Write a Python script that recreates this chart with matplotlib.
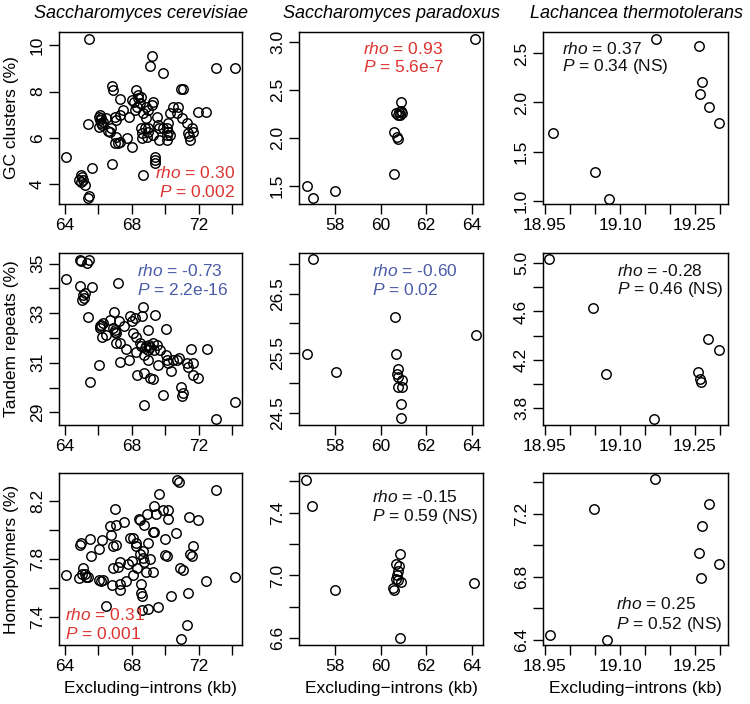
import matplotlib
matplotlib.use("Agg")
import matplotlib.pyplot as plt
import numpy as np

plt.rcParams['font.family'] = ['Liberation Sans', 'DejaVu Sans']
plt.rcParams['mathtext.fontset'] = 'custom'
plt.rcParams['mathtext.it'] = 'Liberation Sans:italic'
plt.rcParams['mathtext.rm'] = 'Liberation Sans'

# ---------------- data ----------------
species = ["Saccharomyces cerevisiae", "Saccharomyces paradoxus", "Lachancea thermotolerans"]
ylabels = ["GC clusters (%)", "Tandem repeats (%)", "Homopolymers (%)"]
xlabel = "Excluding\u2212introns (kb)"

# S. cerevisiae
sc_gc_x = [65.44, 64.08, 64.98, 64.84, 65.08, 64.94, 65.18, 65.04, 65.38, 65.44, 65.4, 65.64,
           66.04, 66.08, 66.14, 66.04, 66.18, 66.08, 66.28, 66.44, 66.84, 66.88, 66.84, 66.68,
           66.78, 66.98, 67.18, 67.04, 67.08, 67.32, 67.28, 67.48, 67.32, 67.72, 67.84, 68.04,
           68.0, 68.12, 68.28, 68.38, 68.18, 68.32, 68.48, 68.58, 68.68, 68.58, 68.64, 68.64,
           68.68, 68.78, 68.88, 68.98, 68.88, 68.98, 69.08, 69.18, 69.28, 69.18, 69.28, 69.38,
           69.38, 69.38, 69.48, 69.58, 69.64, 69.84, 69.88, 70.08, 70.08, 70.18, 70.18, 70.28,
           70.48, 70.68, 70.78, 70.92, 71.04, 70.98, 71.28, 71.38, 71.44, 71.48, 71.58, 71.68,
           71.96, 72.44, 73.04, 74.18, 70.08, 69.0, 68.9, 66.2, 66.6, 67.0, 68.4, 69.6, 70.3]
sc_gc_y = [10.26, 5.19, 4.40, 4.19, 4.19, 4.12, 3.97, 4.33, 3.40, 3.50, 6.60, 4.72,
           6.92, 6.77, 6.63, 6.48, 6.84, 6.99, 6.70, 6.84, 8.25, 8.06, 4.90, 6.27,
           6.41, 5.77, 5.77, 6.05, 6.77, 7.66, 5.84, 7.20, 6.99, 5.98, 6.92, 5.60,
           7.63, 7.56, 8.06, 7.85, 7.20, 7.34, 7.49, 7.78, 7.06, 6.41, 6.20, 5.98,
           4.40, 6.41, 7.34, 7.20, 6.84, 6.41, 9.10, 9.53, 7.56, 7.42, 6.13, 5.19,
           5.05, 4.91, 6.92, 6.56, 5.91, 8.78, 6.41, 6.41, 6.13, 6.27, 6.63, 7.06,
           7.34, 7.06, 7.34, 8.09, 8.09, 6.84, 6.63, 6.20, 6.08, 5.91, 6.41, 6.27,
           7.13, 7.13, 8.99, 8.99, 5.91, 6.25, 6.05, 6.55, 6.30, 6.90, 7.70, 6.45, 6.15]

sc_tr_x = [64.04, 64.88, 64.98, 65.44, 65.32, 64.88, 65.08, 65.12, 65.04, 65.18, 65.64, 65.40,
           65.48, 66.04, 66.08, 66.18, 66.28, 66.10, 66.24, 66.44, 66.68, 66.92, 66.98, 67.08,
           66.90, 67.18, 67.24, 67.04, 67.32, 67.32, 67.52, 67.68, 67.84, 67.92, 68.04, 68.18,
           68.08, 68.28, 68.28, 68.32, 68.48, 68.58, 68.64, 68.68, 68.74, 68.74, 68.72, 68.88,
           68.98, 68.98, 69.04, 69.08, 69.24, 69.28, 69.38, 69.32, 69.48, 69.58, 69.68, 69.84,
           70.02, 70.04, 70.08, 70.18, 70.32, 70.48, 70.68, 70.84, 70.94, 70.98, 71.08, 71.28,
           71.38, 71.52, 71.64, 71.64, 71.96, 72.48, 73.04, 74.18, 68.8, 68.95, 69.1, 67.0]
sc_tr_y = [34.39, 35.13, 35.09, 35.16, 35.03, 34.08, 33.75, 33.61, 33.54, 33.81, 34.06, 32.83,
           30.24, 30.92, 32.47, 32.53, 32.60, 32.40, 32.06, 32.13, 32.74, 33.03, 32.33, 32.20,
           32.40, 34.22, 32.67, 31.79, 31.79, 31.05, 32.47, 31.55, 31.12, 32.87, 32.67, 32.80,
           32.20, 32.06, 31.45, 30.51, 31.79, 31.66, 32.87, 33.27, 29.30, 30.58, 31.32, 31.66,
           32.33, 31.12, 31.72, 30.38, 30.34, 31.79, 32.94, 31.52, 31.72, 30.92, 31.52, 29.70,
           32.37, 31.32, 31.12, 30.98, 30.65, 31.12, 31.12, 31.19, 30.04, 29.64, 29.77, 30.98,
           30.85, 31.55, 31.01, 30.51, 30.40, 31.55, 28.73, 29.43, 31.60, 31.50, 31.65, 32.25]

sc_hp_x = [64.04, 64.84, 64.98, 64.92, 65.08, 65.04, 65.18, 65.28, 65.38, 65.48, 65.58, 66.04,
           66.18, 66.28, 66.04, 66.24, 66.44, 66.68, 66.78, 66.88, 66.88, 66.84, 67.02, 67.04,
           67.04, 67.18, 67.28, 67.32, 67.32, 67.52, 67.68, 67.78, 67.92, 68.08, 68.08, 68.04,
           68.24, 68.28, 68.32, 68.44, 68.48, 68.48, 68.54, 68.64, 68.58, 68.64, 68.68, 68.68,
           68.72, 68.74, 68.88, 68.92, 68.98, 68.98, 69.08, 69.24, 69.32, 69.24, 69.32, 69.44,
           69.58, 69.64, 69.84, 69.98, 69.98, 70.08, 70.18, 70.18, 70.32, 70.64, 70.72, 70.80,
           70.88, 71.04, 70.92, 71.28, 71.38, 71.40, 71.48, 71.58, 71.64, 71.96, 72.44, 73.04,
           74.18]
sc_hp_y = [7.69, 7.67, 7.91, 7.90, 7.74, 7.70, 7.70, 7.68, 7.68, 7.94, 7.82, 7.66,
           7.65, 7.66, 7.87, 7.93, 7.48, 8.03, 7.97, 7.89, 7.74, 7.62, 8.15, 8.04,
           7.90, 7.75, 7.78, 7.63, 7.59, 8.06, 7.65, 7.77, 7.95, 7.95, 7.69, 7.79,
           7.91, 7.89, 7.74, 8.08, 8.07, 7.84, 7.57, 7.55, 7.63, 7.45, 7.86, 7.81,
           8.04, 7.78, 7.71, 8.11, 7.91, 7.46, 7.80, 7.99, 7.99, 7.71, 8.17, 8.11,
           7.47, 8.25, 8.14, 7.94, 7.83, 7.82, 8.14, 8.08, 7.55, 7.98, 8.35, 8.33,
           7.74, 7.73, 7.25, 7.35, 7.57, 8.09, 7.84, 7.82, 7.89, 8.07, 7.65, 8.28,
           7.68]

# S. paradoxus
sp_gc_x = [56.76, 57.05, 58.00, 60.61, 60.61, 60.71, 60.75, 60.66, 60.75, 60.81, 60.90, 60.85,
           60.93, 60.90, 64.15]
sp_gc_y = [1.50, 1.37, 1.45, 1.62, 2.06, 2.01, 1.99, 2.26, 2.24, 2.27, 2.28, 2.24,
           2.26, 2.37, 3.03]
sp_tr_x = [57.05, 56.76, 58.04, 60.64, 60.66, 60.75, 60.71, 60.78, 60.93, 60.75, 60.96, 60.90,
           60.90, 64.18]
sp_tr_y = [27.08, 25.49, 25.18, 26.11, 25.49, 25.23, 25.16, 25.11, 25.06, 24.94, 24.94, 24.65,
           24.41, 25.80]
sp_hp_x = [56.71, 57.00, 58.00, 60.56, 60.61, 60.66, 60.71, 60.75, 60.66, 60.81, 60.85, 60.88,
           60.78, 60.87, 64.12]
sp_hp_y = [7.61, 7.44, 6.91, 6.92, 6.91, 6.98, 7.00, 6.97, 7.07, 7.06, 7.14, 6.96,
           7.03, 6.60, 6.95]

# L. thermotolerans
lt_gc_x = [18.965, 19.050, 19.077, 19.171, 19.257, 19.263, 19.260, 19.277, 19.297]
lt_gc_y = [1.69, 1.29, 1.02, 2.65, 2.58, 2.21, 2.09, 1.95, 1.79]
lt_tr_x = [18.959, 19.045, 19.072, 19.168, 19.255, 19.260, 19.262, 19.275, 19.297]
lt_tr_y = [5.03, 4.63, 4.08, 3.71, 4.10, 4.04, 4.02, 4.37, 4.28]
lt_hp_x = [18.960, 19.047, 19.073, 19.170, 19.277, 19.263, 19.257, 19.297, 19.261]
lt_hp_y = [6.43, 7.23, 6.40, 7.42, 7.26, 7.12, 6.95, 6.88, 6.79]

# statistics text
rho_vals = [["0.30", "0.93", "0.37"], ["-0.73", "-0.60", "-0.28"], ["0.31", "-0.15", "0.25"]]
p_vals = [["0.002", "5.6e-7", "0.34 (NS)"], ["2.2e-16", "0.02", "0.46 (NS)"], ["0.001", "0.59 (NS)", "0.52 (NS)"]]

# ticks
x_ticks = [[64, 66, 68, 70, 72, 74], [58, 60, 62, 64], [18.95, 19.00, 19.05, 19.10, 19.15, 19.20, 19.25, 19.30]]
x_ticklabels = [["64", "", "68", "", "72", ""], ["58", "60", "62", "64"],
                ["18.95", "", "", "19.10", "", "", "19.25", ""]]
y_ticks = [
    [[4, 6, 8, 10], [1.5, 2.0, 2.5, 3.0], [1.0, 1.5, 2.0, 2.5]],
    [[29, 30, 31, 32, 33, 34, 35], [24.5, 25.0, 25.5, 26.0, 26.5, 27.0], [3.8, 4.0, 4.2, 4.4, 4.6, 4.8, 5.0]],
    [[7.4, 7.6, 7.8, 8.0, 8.2], [6.6, 6.8, 7.0, 7.2, 7.4, 7.6], [6.4, 6.6, 6.8, 7.0, 7.2, 7.4]],
]
y_ticklabels = [
    [["4", "6", "8", "10"], ["1.5", "2.0", "2.5", "3.0"], ["1.0", "1.5", "2.0", "2.5"]],
    [["29", "", "31", "", "33", "", "35"], ["24.5", "", "25.5", "", "26.5", ""], ["3.8", "", "4.2", "", "4.6", "", "5.0"]],
    [["7.4", "", "7.8", "", "8.2"], ["6.6", "", "7.0", "", "7.4", ""], ["6.4", "", "6.8", "", "7.2", ""]],
]

# ---------------- layout ----------------
W, H = 750, 704
col_px = [(59, 242), (299, 483), (543, 728)]
row_px = [(32, 204), (253, 425), (473, 645)]
title_px = [141, 392, 637]
xlims = [(63.64, 74.6), (56.42, 64.5), (18.946, 19.316)]
ylims = [
    [(3.16, 10.56), (1.312, 3.104), (0.966, 2.718)],
    [(28.49, 35.43), (24.30, 27.18), (3.662, 5.083)],
    [(7.21, 8.395), (6.557, 7.653), (6.368, 7.459)],
]
RED = '#DD3430'
BLUE = '#4A5BA8'
BLACK = '#111111'
stat_colors = [[RED, RED, BLACK], [BLUE, BLUE, BLACK], [RED, BLACK, BLACK]]
# text positions (pixel: x, y of rho line, y of P line, alignment)
stat_pos = [
    [(235, 173, 192, 'right'), (363, 49, 67, 'left'), (562, 49, 67, 'left')],
    [(137, 271, 290, 'left'), (372, 271, 290, 'left'), (617, 271, 290, 'left')],
    [(65, 615, 634, 'left'), (372, 497, 516, 'left'), (616, 604, 624, 'left')],
]

data = [
    [(sc_gc_x, sc_gc_y), (sp_gc_x, sp_gc_y), (lt_gc_x, lt_gc_y)],
    [(sc_tr_x, sc_tr_y), (sp_tr_x, sp_tr_y), (lt_tr_x, lt_tr_y)],
    [(sc_hp_x, sc_hp_y), (sp_hp_x, sp_hp_y), (lt_hp_x, lt_hp_y)],
]

fig = plt.figure(figsize=(W / 100, H / 100), dpi=100)
FS = 12.5

for r in range(3):
    for c in range(3):
        x0, x1 = col_px[c]
        y0, y1 = row_px[r]
        ax = fig.add_axes([x0 / W, 1 - y1 / H, (x1 - x0) / W, (y1 - y0) / H])
        xs, ys = data[r][c]
        ax.plot(xs, ys, linestyle='none', marker='o', markersize=6.8,
                markerfacecolor='none', markeredgecolor='black', markeredgewidth=1.05)
        ax.set_xlim(*xlims[c])
        ax.set_ylim(*ylims[r][c])
        ax.set_xticks(x_ticks[c])
        ax.set_xticklabels(x_ticklabels[c])
        ax.set_yticks(y_ticks[r][c])
        ax.set_yticklabels(y_ticklabels[r][c], rotation=90, va='center')
        ax.tick_params(axis='both', direction='out', length=7, width=1.0,
                       labelsize=FS, colors='black')
        ax.tick_params(axis='x', pad=3)
        ax.tick_params(axis='y', pad=3)
        for s in ax.spines.values():
            s.set_linewidth(1.05)
        px, py1, py2, ha = stat_pos[r][c]
        col = stat_colors[r][c]
        fig.text(px / W, 1 - py1 / H, r'$\mathit{rho}$ = ' + rho_vals[r][c],
                 ha=ha, va='center', fontsize=FS, color=col)
        fig.text(px / W, 1 - py2 / H, r'$\mathit{P}$ = ' + p_vals[r][c],
                 ha=ha, va='center', fontsize=FS, color=col)

for c in range(3):
    x0, x1 = col_px[c]
    fig.text(title_px[c] / W, 1 - 13 / H, species[c], ha='center', va='center',
             fontsize=13, style='italic')
    fig.text((x0 + x1) / 2 / W, 1 - 688 / H, xlabel, ha='center', va='center', fontsize=FS)

for r in range(3):
    y0, y1 = row_px[r]
    fig.text(12 / W, 1 - (y0 + y1) / 2 / H, ylabels[r], ha='center', va='center',
             rotation=90, fontsize=FS)

fig.savefig('out.png', dpi=100)
